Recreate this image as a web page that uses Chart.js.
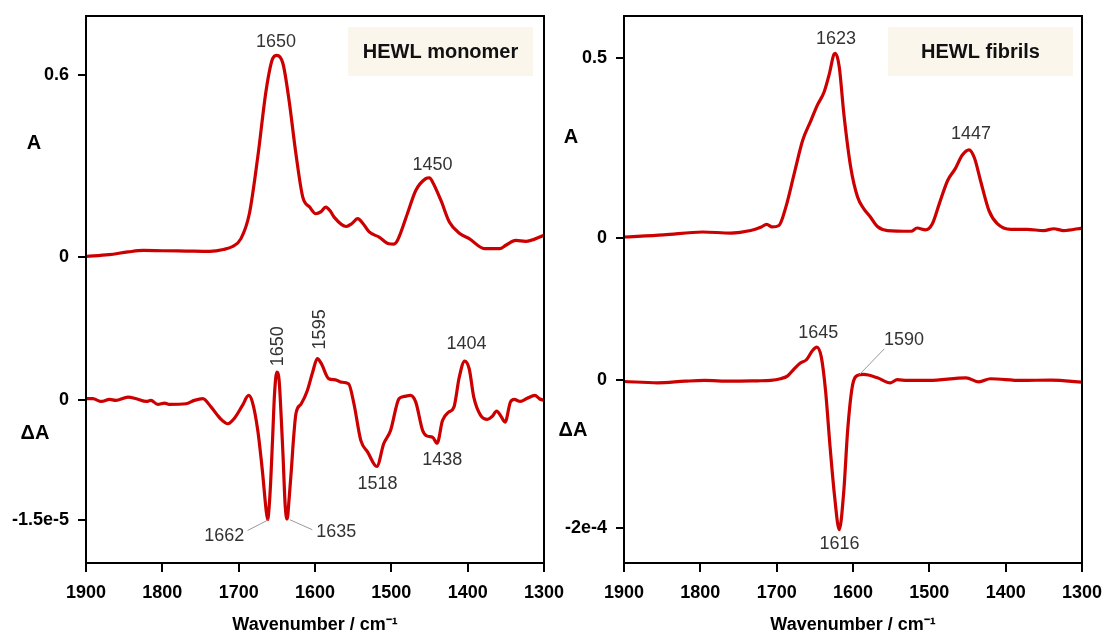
<!DOCTYPE html>
<html>
<head>
<meta charset="utf-8">
<script src="https://cdn.jsdelivr.net/npm/chart.js@4.4.1/dist/chart.umd.min.js"></script>
<style>
  html, body { margin: 0; padding: 0; background: #fff; }
  #wrap { position: relative; width: 1102px; height: 634px; overflow: hidden; }
  .painel { position: absolute; top: 0; }
  #p1 { left: 0; }
  #p2 { left: 550px; }
</style>
</head>
<body>
<div id="wrap">
  <div class="painel" id="p1"><canvas id="monomero" width="580" height="634"></canvas></div>
  <div class="painel" id="p2"><canvas id="fibrilas" width="552" height="634"></canvas></div>
</div>
<script>
const fonte = 'Arial, "Liberation Sans", Helvetica, sans-serif';
const vermelho = '#cc0000';

// eixo x comum
const xTicks = [1900, 1800, 1700, 1600, 1500, 1400, 1300];

// HEWL monomer - absorbancia
const monoWnA = [1900, 1870, 1845, 1825, 1800, 1769, 1738, 1720, 1708, 1697, 1686, 1675, 1664, 1655.5, 1650, 1642, 1634, 1625, 1616, 1607, 1599, 1592, 1586, 1580, 1575, 1559, 1552, 1544, 1537, 1529, 1516, 1503, 1497, 1492, 1479, 1468, 1455, 1450, 1446, 1435, 1424, 1411, 1398, 1378, 1358, 1350, 1337, 1324, 1300];
const monoA = [0.002, 0.008, 0.017, 0.022, 0.021, 0.020, 0.019, 0.025, 0.035, 0.061, 0.143, 0.330, 0.551, 0.655, 0.666, 0.639, 0.518, 0.341, 0.198, 0.165, 0.143, 0.150, 0.165, 0.152, 0.132, 0.101, 0.110, 0.127, 0.110, 0.083, 0.066, 0.044, 0.043, 0.055, 0.143, 0.220, 0.259, 0.262, 0.248, 0.187, 0.116, 0.079, 0.061, 0.028, 0.028, 0.039, 0.055, 0.052, 0.072];

// HEWL monomer - espectro diferenca
const monoWnD = [1900, 1891, 1880, 1869, 1861, 1845, 1834, 1821, 1815, 1806, 1797, 1791, 1769, 1758, 1747, 1736, 1725, 1714, 1706, 1695, 1687, 1682, 1675, 1669, 1664, 1662, 1660, 1658, 1655.5, 1653, 1650, 1647, 1644.5, 1642, 1639, 1636.5, 1634, 1631, 1628, 1625, 1618, 1610, 1603, 1597, 1592, 1582, 1573, 1566, 1556, 1549, 1540, 1531, 1519, 1510, 1501, 1490, 1483, 1475, 1468, 1459, 1453, 1446, 1440, 1433, 1425, 1418, 1411, 1404, 1398, 1392, 1383, 1374, 1368, 1362, 1357, 1351, 1344, 1339, 1331, 1322, 1312, 1306, 1300];
const monoD = [0.015e-5, 0.015e-5, -0.019e-5, 0.006e-5, -0.006e-5, 0.035e-5, 0.015e-5, -0.019e-5, -0.006e-5, -0.056e-5, -0.040e-5, -0.056e-5, -0.048e-5, -0.006e-5, 0.015e-5, -0.090e-5, -0.223e-5, -0.298e-5, -0.235e-5, -0.069e-5, 0.056e-5, -0.027e-5, -0.38e-5, -0.88e-5, -1.38e-5, -1.50e-5, -1.33e-5, -1.01e-5, -0.47e-5, 0.078e-5, 0.348e-5, 0.244e-5, -0.173e-5, -0.67e-5, -1.33e-5, -1.49e-5, -1.25e-5, -0.88e-5, -0.47e-5, -0.173e-5, -0.048e-5, 0.119e-5, 0.35e-5, 0.516e-5, 0.46e-5, 0.265e-5, 0.252e-5, 0.223e-5, 0.202e-5, -0.048e-5, -0.507e-5, -0.653e-5, -0.833e-5, -0.548e-5, -0.382e-5, 0.015e-5, 0.044e-5, 0.056e-5, -0.027e-5, -0.382e-5, -0.453e-5, -0.466e-5, -0.541e-5, -0.257e-5, -0.153e-5, -0.09e-5, 0.285e-5, 0.486e-5, 0.39e-5, 0.035e-5, -0.194e-5, -0.244e-5, -0.207e-5, -0.14e-5, -0.194e-5, -0.278e-5, -0.027e-5, 0.006e-5, -0.019e-5, 0.02e-5, 0.056e-5, 0.015e-5, -0.006e-5];

// HEWL fibrils - absorbancia
const fibWnA = [1900, 1848, 1797, 1760, 1734, 1721, 1713, 1706, 1697, 1688, 1677, 1666, 1655, 1647, 1638, 1631, 1625, 1623, 1618, 1612, 1603, 1594, 1586, 1577, 1568, 1555, 1524, 1516, 1505, 1496, 1487, 1476, 1466, 1457, 1448, 1441, 1433, 1422, 1411, 1393, 1372, 1350, 1337, 1324, 1300];
const fibA = [0.002, 0.008, 0.016, 0.013, 0.020, 0.029, 0.037, 0.030, 0.034, 0.085, 0.178, 0.270, 0.326, 0.367, 0.404, 0.455, 0.509, 0.512, 0.474, 0.344, 0.196, 0.113, 0.081, 0.057, 0.031, 0.020, 0.018, 0.027, 0.022, 0.039, 0.094, 0.159, 0.192, 0.229, 0.244, 0.222, 0.159, 0.076, 0.039, 0.023, 0.023, 0.020, 0.025, 0.020, 0.027];

// HEWL fibrils - espectro diferenca
const fibWnD = [1900, 1856, 1820, 1795, 1760, 1725, 1708, 1695, 1686, 1677, 1669, 1661, 1653, 1647.5, 1641.5, 1636, 1630, 1624, 1618, 1612, 1607, 1601, 1594, 1586, 1568, 1551, 1542, 1529, 1500, 1452, 1435, 1420, 1380, 1340, 1300];
const fibD = [-0.014e-4, -0.032e-4, -0.01e-4, 0, -0.01e-4, -0.005e-4, 0, 0.023e-4, 0.059e-4, 0.158e-4, 0.235e-4, 0.28e-4, 0.406e-4, 0.451e-4, 0.316e-4, -0.135e-4, -0.903e-4, -1.58e-4, -2.02e-4, -1.49e-4, -0.677e-4, -0.09e-4, 0.068e-4, 0.081e-4, 0.036e-4, -0.032e-4, 0.01e-4, 0, 0, 0.036e-4, -0.02e-4, 0.023e-4, 0, 0.005e-4, -0.023e-4];

// marcas dos eixos y
const monoTicksA = [0, 0.6];
const monoRotulosA = ['0', '0.6'];
const monoTicksD = [0, -1.5e-5];
const monoRotulosD = ['0', '-1.5e-5'];
const fibTicksA = [0, 0.5];
const fibRotulosA = ['0', '0.5'];
const fibTicksD = [0, -2e-4];
const fibRotulosD = ['0', '-2e-4'];

const pluginMoldura = {
  id: 'moldura',
  beforeDatasetsDraw(chart, args, o) {
    const ctx = chart.ctx;
    ctx.save();
    ctx.fillStyle = '#fbf6ec';
    ctx.fillRect(o.caixa.x, o.caixa.y, o.caixa.w, o.caixa.h);
    ctx.fillStyle = '#111';
    ctx.font = 'bold 20px ' + fonte;
    ctx.textAlign = 'center';
    ctx.textBaseline = 'middle';
    ctx.fillText(o.caixa.texto, o.caixa.x + o.caixa.w / 2, o.caixa.y + o.caixa.h / 2 + 1);
    ctx.restore();
  },
  afterDraw(chart, args, o) {
    const { ctx, chartArea: a, scales } = chart;
    ctx.save();
    ctx.strokeStyle = '#000';
    ctx.lineWidth = 2;
    ctx.strokeRect(a.left, a.top, a.right - a.left, a.bottom - a.top);

    // A e ΔA
    ctx.fillStyle = '#000';
    ctx.font = 'bold 20px ' + fonte;
    ctx.textAlign = 'center';
    ctx.textBaseline = 'middle';
    o.titulos.forEach(t => ctx.fillText(t.texto, t.x, t.y));

    // rotulos dos picos
    ctx.font = '18px ' + fonte;
    ctx.fillStyle = '#333';
    o.picos.forEach(p => {
      const y = scales[p.eixo];
      if (p.linha) {
        ctx.beginPath();
        ctx.strokeStyle = '#999';
        ctx.lineWidth = 1;
        ctx.moveTo(scales.x.getPixelForValue(p.linha[0]), y.getPixelForValue(p.linha[1]));
        ctx.lineTo(scales.x.getPixelForValue(p.linha[2]), y.getPixelForValue(p.linha[3]));
        ctx.stroke();
      }
      ctx.save();
      ctx.translate(scales.x.getPixelForValue(p.wn), y.getPixelForValue(p.v));
      if (p.rot) ctx.rotate(-Math.PI / 2);
      ctx.fillText(p.texto, 0, 0);
      ctx.restore();
    });
    ctx.restore();
  }
};

function pontos(wn, v) {
  return wn.map((w, i) => ({ x: w, y: v[i] }));
}

function montarPainel(id, c) {
  const fonteTick = { family: fonte, size: 18, weight: 'bold' };
  const serie = (dados, eixo) => ({
    data: dados,
    yAxisID: eixo,
    borderColor: vermelho,
    borderWidth: 3.2,
    pointRadius: 0,
    cubicInterpolationMode: 'monotone',
    fill: false
  });
  const eixoY = (faixa, ticks, rotulos, peso, largura) => ({
    type: 'linear',
    position: 'left',
    weight: peso,
    min: faixa[0],
    max: faixa[1],
    afterBuildTicks: s => { s.ticks = ticks.map(v => ({ value: v })); },
    ticks: { callback: (v, i) => rotulos[i], font: fonteTick, color: '#000', padding: 9, autoSkip: false },
    grid: { drawOnChartArea: false, tickLength: 8, color: '#000', lineWidth: 2 },
    border: { display: false },
    afterFit: s => {
      s.width = largura;
      s.paddingTop = 0;
      s.paddingBottom = 0;
      // o eixo de largura zero divide a coluna de rotulos com o outro eixo
      s._computeLabelArea = () => null;
    }
  });

  return new Chart(document.getElementById(id), {
    type: 'line',
    data: {
      datasets: [serie(pontos(c.wnA, c.valA), 'yA'), serie(pontos(c.wnD, c.valD), 'yD')]
    },
    options: {
      responsive: false,
      animation: false,
      layout: { padding: { top: 16, right: c.direita, bottom: 0, left: 0 } },
      plugins: {
        legend: { display: false },
        tooltip: { enabled: false },
        moldura: { caixa: c.caixa, titulos: c.titulos, picos: c.picos }
      },
      scales: {
        x: {
          type: 'linear',
          min: 1300,
          max: 1900,
          reverse: true,
          afterBuildTicks: s => { s.ticks = xTicks.map(v => ({ value: v })); },
          ticks: { callback: v => String(v), font: fonteTick, color: '#000', padding: 10, maxRotation: 0, autoSkip: false },
          grid: { drawOnChartArea: false, tickLength: 9, color: '#000', lineWidth: 2 },
          border: { display: false },
          title: {
            display: true,
            text: 'Wavenumber / cm\u207B\u00B9',
            font: { family: fonte, size: 18, weight: 'bold', lineHeight: 1 },
            color: '#000',
            padding: { top: 0, bottom: 0 }
          },
          afterFit: s => { s.height = 71; s.paddingLeft = 0; s.paddingRight = 0; }
        },
        yA: eixoY(c.faixaA, c.ticksA, c.rotulosA, 1, c.esquerda),
        yD: eixoY(c.faixaD, c.ticksD, c.rotulosD, 0, 0)
      }
    },
    plugins: [pluginMoldura]
  });
}

montarPainel('monomero', {
  wnA: monoWnA, valA: monoA, wnD: monoWnD, valD: monoD,
  faixaA: [-1.0099, 0.7959], faixaD: [-2.041e-5, 4.805e-5],
  ticksA: monoTicksA, rotulosA: monoRotulosA, ticksD: monoTicksD, rotulosD: monoRotulosD,
  esquerda: 86, direita: 36,
  caixa: { x: 348, y: 27, w: 185, h: 49, texto: 'HEWL monomer' },
  titulos: [{ texto: 'A', x: 34, y: 143 }, { texto: '\u0394A', x: 35, y: 433 }],
  picos: [
    { texto: '1650', eixo: 'yA', wn: 1651, v: 0.709 },
    { texto: '1450', eixo: 'yA', wn: 1446, v: 0.303 },
    { texto: '1650', eixo: 'yD', wn: 1648.5, v: 0.672e-5, rot: true },
    { texto: '1595', eixo: 'yD', wn: 1592.8, v: 0.883e-5, rot: true },
    { texto: '1404', eixo: 'yD', wn: 1401.4, v: 0.695e-5 },
    { texto: '1518', eixo: 'yD', wn: 1518, v: -1.049e-5 },
    { texto: '1438', eixo: 'yD', wn: 1433.4, v: -0.757e-5 },
    { texto: '1662', eixo: 'yD', wn: 1718.8, v: -1.705e-5, linha: [1688.3, -1.634e-5, 1661, -1.5e-5] },
    { texto: '1635', eixo: 'yD', wn: 1572.1, v: -1.655e-5, linha: [1632.8, -1.5e-5, 1603.5, -1.625e-5] }
  ]
});

montarPainel('fibrilas', {
  wnA: fibWnA, valA: fibA, wnD: fibWnD, valD: fibD,
  faixaA: [-0.903, 0.6156], faixaD: [-2.471e-4, 4.933e-4],
  ticksA: fibTicksA, rotulosA: fibRotulosA, ticksD: fibTicksD, rotulosD: fibRotulosD,
  esquerda: 74, direita: 20,
  caixa: { x: 338, y: 27, w: 185, h: 49, texto: 'HEWL fibrils' },
  titulos: [{ texto: 'A', x: 21, y: 137 }, { texto: '\u0394A', x: 23, y: 430 }],
  picos: [
    { texto: '1623', eixo: 'yA', wn: 1622.4, v: 0.553 },
    { texto: '1447', eixo: 'yA', wn: 1445.4, v: 0.289 },
    { texto: '1645', eixo: 'yD', wn: 1645.6, v: 0.646e-4 },
    { texto: '1590', eixo: 'yD', wn: 1533.3, v: 0.542e-4, linha: [1558.9, 0.429e-4, 1591.4, 0.081e-4] },
    { texto: '1616', eixo: 'yD', wn: 1617.7, v: -2.211e-4 }
  ]
});
</script>
</body>
</html>
